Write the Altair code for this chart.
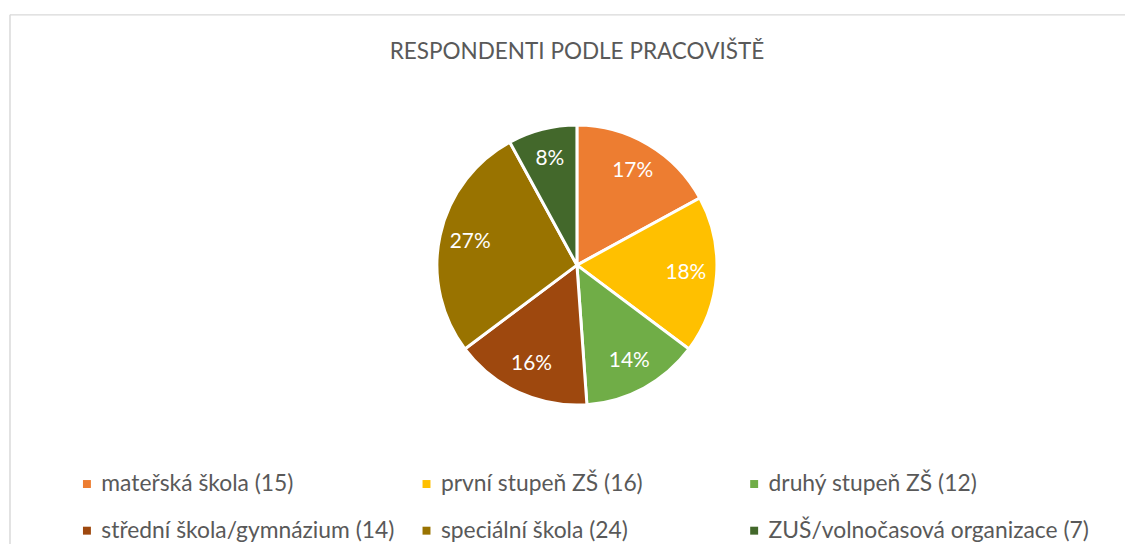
import altair as alt
import pandas as pd

title_text = "RESPONDENTI PODLE PRACOVIŠTĚ"
categories = [
    "mateřská škola (15)",
    "první stupeň ZŠ (16)",
    "druhý stupeň ZŠ (12)",
    "střední škola/gymnázium (14)",
    "speciální škola (24)",
    "ZUŠ/volnočasová organizace (7)",
]
counts = [15, 16, 12, 14, 24, 7]
colors = ["#ED7D31", "#FFC000", "#70AD47", "#9E480E", "#997300", "#43682B"]

df = pd.DataFrame({"kategorie": categories, "pocet": counts, "poradi": list(range(len(counts)))})

FONT = "Lato"
TEXT_COLOR = "#595959"
CX, CY = 573, 257
N_COLS = 3
LEGEND_COL_X = [68, 410, 740]
LEGEND_Y = 466

base = alt.Chart(df).encode(
    theta=alt.Theta("pocet:Q", stack=True),
    order=alt.Order("poradi:Q"),
)

pie = base.mark_arc(outerRadius=141, stroke="white", strokeWidth=3).encode(
    color=alt.Color(
        "kategorie:N",
        sort=categories,
        scale=alt.Scale(domain=categories, range=colors),
        legend=None,
    ),
    x=alt.value(CX),
    y=alt.value(CY),
)

labels = (
    base.transform_joinaggregate(total="sum(pocet)")
    .transform_calculate(pct="format(datum.pocet / datum.total, '.0%')")
    .mark_text(radius=110, fill="white", font=FONT, fontSize=21, align="center", baseline="middle")
    .encode(text="pct:N", x=alt.value(CX), y=alt.value(CY))
)

# legend: one column of entries per legend, entries in row-major order as in the original
legend_layers = []
for k in range(N_COLS):
    cats_k = categories[k::N_COLS]
    cols_k = colors[k::N_COLS]
    legend_layers.append(
        alt.Chart(df)
        .transform_filter(f"datum.poradi % {N_COLS} == {k}")
        .mark_square(opacity=0)
        .encode(
            color=alt.Color(
                "kategorie:N",
                sort=cats_k,
                scale=alt.Scale(domain=cats_k, range=cols_k),
                legend=alt.Legend(
                    title=None,
                    orient="none",
                    legendX=LEGEND_COL_X[k],
                    legendY=LEGEND_Y,
                    direction="vertical",
                    rowPadding=23,
                    symbolType="square",
                    symbolSize=64,
                    symbolStrokeWidth=0,
                    symbolOpacity=1,
                    labelFont=FONT,
                    labelFontSize=23,
                    labelColor=TEXT_COLOR,
                    labelOffset=3,
                    labelLimit=450,
                ),
            ),
            x=alt.value(0),
            y=alt.value(0),
        )
    )

title = (
    alt.Chart(pd.DataFrame({"t": [title_text]}))
    .mark_text(font=FONT, fontSize=22.7, color=TEXT_COLOR, align="center", baseline="middle")
    .encode(text="t:N", x=alt.value(CX), y=alt.value(42))
)

frame_top = alt.Chart(pd.DataFrame({"t": [0]})).mark_rule(color="#d9d9d9", strokeWidth=1.5).encode(
    x=alt.value(2), x2=alt.value(1125), y=alt.value(5)
)
frame_left = alt.Chart(pd.DataFrame({"t": [0]})).mark_rule(color="#d9d9d9", strokeWidth=1.5).encode(
    x=alt.value(2), y=alt.value(5), y2=alt.value(540)
)

chart = (
    alt.layer(frame_top, frame_left, pie, labels, title, *legend_layers)
    .resolve_scale(color="independent")
    .properties(width=1125, height=536, padding=0, autosize=alt.AutoSizeParams(type="none"))
    .configure_view(stroke=None)
)

chart.save("out.html", embed_options={"renderer": "svg", "actions": False})
